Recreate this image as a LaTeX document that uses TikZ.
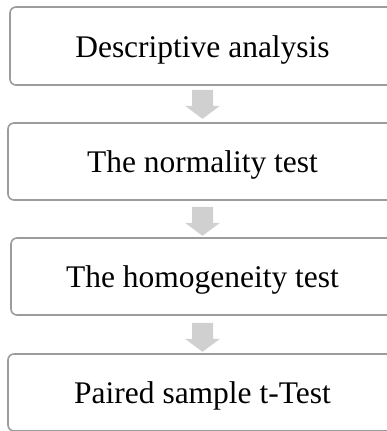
\documentclass[tikz,border=0pt]{standalone}
\usepackage{fontspec}
\setmainfont{Liberation Serif}
\definecolor{boxgray}{HTML}{9C9C9C}
\definecolor{arrowgray}{HTML}{D0D0D0}
\tikzset{
  stepbox/.style={draw=boxgray, line width=1.6bp, rounded corners=6bp, fill=white,
    minimum height=77bp, inner sep=0pt, text height=22bp, text depth=0pt,
    font=\fontsize{31.6}{38}\selectfont},
  downarrow/.pic={\fill[arrowgray] (-10.5,0) -- (10.5,0) -- (10.5,16) -- (17.5,16) -- (0,29) -- (-17.5,16) -- (-10.5,16) -- cycle;}
}
\begin{document}
\begin{tikzpicture}[x=1bp,y=-1bp]
\useasboundingbox (0,0) rectangle (387,431);
\clip (0,0) rectangle (387,431);
\node[stepbox, minimum width=385bp, minimum height=78bp] (b1) at (202.5,46) {Descriptive analysis};
\node[stepbox, minimum width=389bp] (b2) at (202.5,161.5) {The normality test};
\node[stepbox, minimum width=383bp] (b3) at (202.5,276.5) {The homogeneity test};
\node[stepbox, minimum width=389bp] (b4) at (202.5,392.5) {Paired sample t-Test};
\path (b1.south) ++(0,4) pic {downarrow};
\path (b2.south) ++(0,6) pic {downarrow};
\path (b3.south) ++(0,7) pic {downarrow};
\end{tikzpicture}
\end{document}
